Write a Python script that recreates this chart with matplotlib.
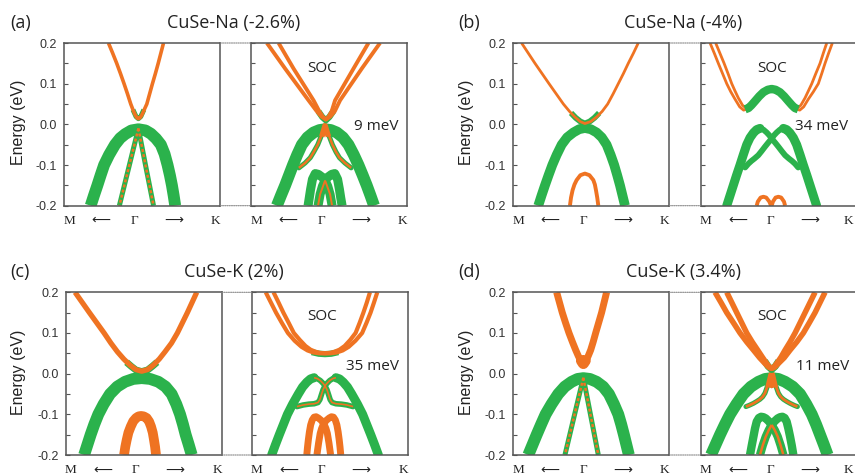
import matplotlib
matplotlib.use("Agg")
import matplotlib.pyplot as plt
from matplotlib.patches import ConnectionPatch

ORANGE = "#ef7322"
GREEN = "#2bb24c"
SPINE = "#555555"
TEXT = "#222222"

# ---------------- text / ticks ----------------
panel_labels = ["(a)", "(b)", "(c)", "(d)"]
panel_titles = ["CuSe-Na (-2.6%)", "CuSe-Na (-4%)", "CuSe-K (2%)", "CuSe-K (3.4%)"]
soc_gaps = ["9 meV", "34 meV", "35 meV", "11 meV"]
energy_ticks = [-0.2, -0.1, 0.0, 0.1, 0.2]
energy_ticklabels = ["-0.2", "-0.1", "0.0", "0.1", "0.2"]
energy_minor = [-0.15, -0.05, 0.05, 0.15]
k_labels = ["M", "\u27f5", "\u0393", "\u27f6", "K"]

# ---------------- band data: (k as fraction of M-Gamma-K window, E in eV) ----------------
# (a) no SOC
A0_CB = [(0.283, 0.2), (0.310, 0.175), (0.336, 0.15), (0.360, 0.125), (0.383, 0.10), (0.405, 0.075),
         (0.426, 0.05), (0.442, 0.034), (0.456, 0.022), (0.466, 0.016), (0.475, 0.014), (0.485, 0.016),
         (0.496, 0.022), (0.510, 0.034), (0.529, 0.05), (0.547, 0.075), (0.565, 0.10), (0.584, 0.125),
         (0.602, 0.15), (0.619, 0.175), (0.636, 0.2)]
A0_CB_GREEN = [(0.44, 0.036), (0.46, 0.019), (0.475, 0.014), (0.49, 0.019), (0.51, 0.036)]
A0_VB = [(0.169, -0.2), (0.190, -0.175), (0.212, -0.15), (0.233, -0.125), (0.255, -0.1), (0.287, -0.075),
         (0.325, -0.05), (0.358, -0.034), (0.390, -0.024), (0.430, -0.015), (0.475, -0.012), (0.520, -0.015),
         (0.555, -0.023), (0.588, -0.035), (0.619, -0.05), (0.643, -0.073), (0.662, -0.1), (0.677, -0.125),
         (0.690, -0.15), (0.701, -0.175), (0.711, -0.2)]
A0_DOT_L = [(0.475, -0.01), (0.414, -0.105), (0.353, -0.2)]
A0_DOT_R = [(0.475, -0.01), (0.523, -0.105), (0.572, -0.2)]
# (a) SOC
A1_CB1 = [(0.100, 0.2), (0.217, 0.137), (0.367, 0.059), (0.420, 0.032), (0.450, 0.019), (0.478, 0.012),
          (0.506, 0.019), (0.535, 0.032), (0.569, 0.059), (0.708, 0.137), (0.825, 0.2)]
A1_CB2 = [(0.175, 0.2), (0.271, 0.137), (0.399, 0.059), (0.436, 0.032), (0.458, 0.019), (0.478, 0.012),
          (0.496, 0.019), (0.515, 0.032), (0.537, 0.059), (0.655, 0.137), (0.751, 0.2)]
A1_CB_TIP = [(0.43, 0.032), (0.455, 0.018), (0.478, 0.010), (0.500, 0.018), (0.525, 0.032)]
A1_VB_OUT = [(0.164, -0.2), (0.190, -0.175), (0.217, -0.15), (0.242, -0.125), (0.267, -0.1), (0.294, -0.075),
             (0.324, -0.05), (0.360, -0.032), (0.399, -0.02), (0.437, -0.014), (0.473, -0.012), (0.510, -0.014),
             (0.548, -0.02), (0.587, -0.032), (0.623, -0.05), (0.657, -0.075), (0.687, -0.1), (0.714, -0.125),
             (0.740, -0.15), (0.764, -0.175), (0.787, -0.2)]
A1_VB_IN_L = [(0.473, -0.004), (0.450, -0.027), (0.426, -0.05), (0.400, -0.068), (0.378, -0.082),
              (0.345, -0.095), (0.305, -0.107)]
A1_VB_IN_R = [(0.473, -0.004), (0.497, -0.027), (0.520, -0.05), (0.543, -0.068), (0.565, -0.082),
              (0.600, -0.095), (0.640, -0.107)]
A1_VB_TOP = [(0.452, -0.03), (0.473, -0.003), (0.494, -0.03)]
A1_LOW_L = [(0.364, -0.2), (0.372, -0.18), (0.380, -0.16), (0.392, -0.135), (0.410, -0.121), (0.430, -0.123),
            (0.455, -0.13), (0.473, -0.138), (0.490, -0.152), (0.505, -0.172), (0.518, -0.2)]
A1_LOW_R = [(0.428, -0.2), (0.441, -0.172), (0.456, -0.152), (0.473, -0.138), (0.490, -0.13), (0.515, -0.123),
            (0.535, -0.121), (0.553, -0.135), (0.565, -0.16), (0.573, -0.18), (0.582, -0.2)]
A1_LOW_OR_L = [(0.473, -0.138), (0.441, -0.172), (0.428, -0.2)]
A1_LOW_OR_R = [(0.473, -0.138), (0.505, -0.172), (0.518, -0.2)]

# (b) no SOC
B0_CB = [(0.053, 0.2), (0.096, 0.175), (0.139, 0.15), (0.184, 0.125), (0.229, 0.10), (0.275, 0.075),
         (0.321, 0.05), (0.360, 0.032), (0.395, 0.018), (0.428, 0.007), (0.459, 0.002), (0.497, 0.007),
         (0.534, 0.018), (0.570, 0.032), (0.605, 0.05), (0.640, 0.075), (0.673, 0.10), (0.706, 0.125),
         (0.737, 0.15), (0.770, 0.175), (0.801, 0.2)]
B0_CB_GREEN = [(0.37, 0.028), (0.40, 0.016), (0.43, 0.007), (0.459, 0.002), (0.49, 0.007), (0.52, 0.016),
               (0.55, 0.028)]
B0_VB = [(0.160, -0.2), (0.181, -0.175), (0.203, -0.15), (0.226, -0.125), (0.250, -0.1), (0.278, -0.075),
         (0.310, -0.05), (0.345, -0.032), (0.385, -0.02), (0.422, -0.012), (0.459, -0.009), (0.497, -0.012),
         (0.534, -0.02), (0.567, -0.032), (0.598, -0.05), (0.624, -0.075), (0.647, -0.1), (0.666, -0.125),
         (0.684, -0.15), (0.700, -0.175), (0.716, -0.2)]
B0_LOW = [(0.363, -0.2), (0.370, -0.18), (0.380, -0.162), (0.392, -0.148), (0.406, -0.137), (0.430, -0.125),
          (0.459, -0.121), (0.488, -0.125), (0.513, -0.137), (0.523, -0.148), (0.530, -0.162), (0.538, -0.18),
          (0.545, -0.2)]
# (b) SOC
B1_CB1 = [(0.060, 0.2), (0.087, 0.175), (0.113, 0.15), (0.140, 0.125), (0.167, 0.1), (0.193, 0.08),
          (0.220, 0.062), (0.250, 0.043), (0.275, 0.035), (0.300, 0.038), (0.325, 0.046), (0.348, 0.056),
          (0.375, 0.068), (0.402, 0.079), (0.430, 0.086), (0.455, 0.088), (0.480, 0.086), (0.508, 0.079),
          (0.535, 0.068), (0.562, 0.056), (0.587, 0.046), (0.610, 0.038), (0.635, 0.035), (0.660, 0.043),
          (0.690, 0.062), (0.722, 0.08), (0.754, 0.10), (0.776, 0.125), (0.797, 0.15), (0.820, 0.175), (0.844, 0.2)]
B1_CB2 = [(0.096, 0.2), (0.123, 0.175), (0.150, 0.15), (0.175, 0.125), (0.199, 0.1), (0.220, 0.082),
          (0.241, 0.065), (0.268, 0.047), (0.290, 0.040), (0.310, 0.042), (0.330, 0.048), (0.348, 0.056),
          (0.402, 0.079), (0.455, 0.088), (0.508, 0.079), (0.562, 0.056), (0.580, 0.048), (0.600, 0.042),
          (0.620, 0.040), (0.642, 0.047), (0.669, 0.065), (0.690, 0.082), (0.712, 0.10), (0.738, 0.125),
          (0.765, 0.15), (0.786, 0.175), (0.808, 0.2)]
B1_HUMP = [(0.285, 0.037), (0.306, 0.040), (0.325, 0.047), (0.348, 0.057), (0.375, 0.069), (0.402, 0.079),
           (0.430, 0.085), (0.455, 0.087), (0.480, 0.085), (0.508, 0.079), (0.535, 0.069), (0.562, 0.057),
           (0.585, 0.047), (0.604, 0.040), (0.625, 0.037)]
B1_VB_L_OUT = [(0.167, -0.2), (0.188, -0.175), (0.209, -0.15), (0.230, -0.125), (0.252, -0.1), (0.273, -0.075),
               (0.295, -0.05), (0.316, -0.033), (0.338, -0.021), (0.359, -0.013), (0.380, -0.01)]
B1_VB_L_IN = [(0.380, -0.01), (0.402, -0.013), (0.423, -0.02), (0.440, -0.027), (0.455, -0.035), (0.477, -0.045),
              (0.498, -0.055), (0.520, -0.066), (0.541, -0.076), (0.565, -0.084), (0.585, -0.09), (0.605, -0.097),
              (0.625, -0.106)]
B1_VB_R_OUT = [(0.743, -0.2), (0.722, -0.175), (0.701, -0.15), (0.680, -0.125), (0.658, -0.1), (0.637, -0.075),
               (0.615, -0.05), (0.594, -0.033), (0.572, -0.021), (0.551, -0.013), (0.530, -0.01)]
B1_VB_R_IN = [(0.530, -0.01), (0.508, -0.013), (0.487, -0.02), (0.470, -0.027), (0.455, -0.035), (0.433, -0.045),
              (0.412, -0.055), (0.390, -0.066), (0.369, -0.076), (0.345, -0.084), (0.325, -0.09), (0.305, -0.097),
              (0.285, -0.106)]
B1_LOW_L = [(0.359, -0.2), (0.366, -0.19), (0.384, -0.18), (0.402, -0.178), (0.420, -0.18), (0.440, -0.19),
            (0.451, -0.2)]
B1_LOW_R = [(0.455, -0.2), (0.463, -0.19), (0.480, -0.18), (0.498, -0.178), (0.516, -0.18), (0.534, -0.19),
            (0.541, -0.2)]

# (c) no SOC
C0_CB = [(0.060, 0.2), (0.106, 0.175), (0.152, 0.15), (0.199, 0.125), (0.246, 0.10), (0.290, 0.075),
         (0.331, 0.054), (0.372, 0.036), (0.412, 0.021), (0.450, 0.010), (0.487, 0.006), (0.525, 0.010),
         (0.562, 0.021), (0.600, 0.036), (0.637, 0.054), (0.678, 0.075), (0.716, 0.10), (0.748, 0.125),
         (0.780, 0.15), (0.810, 0.175), (0.840, 0.2)]
C0_CB_GREEN = [(0.39, 0.028), (0.42, 0.018), (0.45, 0.009), (0.487, 0.005), (0.525, 0.009), (0.555, 0.018),
               (0.585, 0.028)]
C0_VB = [(0.118, -0.2), (0.139, -0.175), (0.160, -0.15), (0.183, -0.125), (0.209, -0.1), (0.243, -0.075),
         (0.284, -0.05), (0.330, -0.032), (0.380, -0.02), (0.433, -0.013), (0.487, -0.011), (0.541, -0.013),
         (0.594, -0.02), (0.640, -0.032), (0.679, -0.05), (0.709, -0.075), (0.733, -0.1), (0.752, -0.125),
         (0.769, -0.15), (0.789, -0.175), (0.808, -0.2)]
C0_LOW = [(0.374, -0.2), (0.382, -0.18), (0.391, -0.163), (0.402, -0.145), (0.417, -0.13), (0.433, -0.117),
          (0.451, -0.109), (0.467, -0.105), (0.483, -0.104), (0.500, -0.105), (0.519, -0.109), (0.535, -0.118),
          (0.547, -0.13), (0.558, -0.145), (0.566, -0.163), (0.573, -0.18), (0.579, -0.2)]
# (c) SOC
C1_CB1 = [(0.090, 0.2), (0.123, 0.175), (0.156, 0.15), (0.193, 0.125), (0.232, 0.10), (0.275, 0.081),
          (0.319, 0.066), (0.358, 0.057), (0.395, 0.052), (0.433, 0.050), (0.470, 0.05), (0.507, 0.050),
          (0.545, 0.052), (0.583, 0.057), (0.622, 0.066), (0.665, 0.081), (0.708, 0.10), (0.736, 0.125),
          (0.762, 0.15), (0.784, 0.175), (0.805, 0.2)]
C1_CB2 = [(0.140, 0.2), (0.172, 0.175), (0.203, 0.15), (0.237, 0.125), (0.270, 0.10), (0.308, 0.083),
          (0.345, 0.068), (0.377, 0.059), (0.408, 0.054), (0.440, 0.051), (0.470, 0.05), (0.500, 0.051),
          (0.532, 0.054), (0.563, 0.059), (0.596, 0.068), (0.632, 0.083), (0.666, 0.10), (0.692, 0.125),
          (0.716, 0.15), (0.738, 0.175), (0.758, 0.2)]
C1_CB_GREEN = [(0.385, 0.053), (0.430, 0.049), (0.470, 0.048), (0.510, 0.049), (0.555, 0.053)]
C1_VB_L_OUT = [(0.128, -0.2), (0.152, -0.175), (0.177, -0.15), (0.203, -0.125), (0.229, -0.1), (0.262, -0.075),
               (0.299, -0.05), (0.326, -0.033), (0.353, -0.021), (0.377, -0.013), (0.400, -0.01)]
C1_VB_L_IN = [(0.400, -0.01), (0.420, -0.012), (0.440, -0.017), (0.458, -0.024), (0.470, -0.03), (0.483, -0.040),
              (0.494, -0.053), (0.503, -0.064), (0.515, -0.071), (0.540, -0.074), (0.575, -0.075), (0.610, -0.077),
              (0.650, -0.081)]
C1_VB_R_OUT = [(0.812, -0.2), (0.788, -0.175), (0.763, -0.15), (0.737, -0.125), (0.711, -0.1), (0.678, -0.075),
               (0.641, -0.05), (0.614, -0.033), (0.587, -0.021), (0.563, -0.013), (0.540, -0.01)]
C1_VB_R_IN = [(0.540, -0.01), (0.520, -0.012), (0.500, -0.017), (0.482, -0.024), (0.470, -0.03), (0.457, -0.040),
              (0.446, -0.053), (0.437, -0.064), (0.425, -0.071), (0.400, -0.074), (0.365, -0.075), (0.330, -0.077),
              (0.290, -0.081)]
C1_LOW_L = [(0.353, -0.2), (0.358, -0.18), (0.363, -0.163), (0.370, -0.143), (0.378, -0.126), (0.388, -0.114),
            (0.400, -0.107), (0.413, -0.106), (0.427, -0.109), (0.446, -0.115), (0.464, -0.124), (0.476, -0.135),
            (0.485, -0.147), (0.495, -0.17), (0.506, -0.2)]
C1_LOW_R = [(0.571, -0.2), (0.566, -0.18), (0.561, -0.163), (0.554, -0.143), (0.546, -0.126), (0.536, -0.114),
            (0.524, -0.107), (0.511, -0.106), (0.497, -0.109), (0.478, -0.115), (0.460, -0.124), (0.448, -0.135),
            (0.439, -0.147), (0.429, -0.17), (0.418, -0.2)]

# (d) no SOC
D0_CB = [(0.278, 0.2), (0.296, 0.175), (0.314, 0.15), (0.335, 0.125), (0.357, 0.10), (0.379, 0.078),
         (0.400, 0.058), (0.416, 0.044), (0.430, 0.033), (0.441, 0.027), (0.449, 0.025), (0.458, 0.027),
         (0.468, 0.033), (0.481, 0.044), (0.496, 0.058), (0.512, 0.078), (0.528, 0.10), (0.547, 0.125),
         (0.566, 0.15), (0.582, 0.175), (0.598, 0.2)]
D0_CB_TIP = [(0.437, 0.032), (0.449, 0.025), (0.461, 0.032)]
D0_VB = [(0.096, -0.2), (0.123, -0.175), (0.150, -0.15), (0.178, -0.125), (0.207, -0.1), (0.245, -0.075),
         (0.288, -0.05), (0.330, -0.032), (0.374, -0.02), (0.412, -0.013), (0.449, -0.011), (0.491, -0.013),
         (0.534, -0.02), (0.576, -0.032), (0.613, -0.05), (0.645, -0.075), (0.673, -0.1), (0.692, -0.125),
         (0.709, -0.15), (0.725, -0.175), (0.741, -0.2)]
D0_DOT_L = [(0.449, -0.01), (0.390, -0.105), (0.331, -0.2)]
D0_DOT_R = [(0.449, -0.01), (0.497, -0.105), (0.545, -0.2)]
# (d) SOC
D1_CB1 = [(0.092, 0.2), (0.130, 0.175), (0.167, 0.15), (0.210, 0.125), (0.252, 0.10), (0.295, 0.078),
          (0.338, 0.058), (0.378, 0.039), (0.412, 0.025), (0.436, 0.016), (0.455, 0.013), (0.474, 0.016),
          (0.498, 0.025), (0.535, 0.039), (0.573, 0.058), (0.616, 0.078), (0.658, 0.10), (0.696, 0.125),
          (0.733, 0.15), (0.765, 0.175), (0.797, 0.2)]
D1_CB2 = [(0.167, 0.2), (0.199, 0.175), (0.231, 0.15), (0.263, 0.125), (0.295, 0.10), (0.330, 0.078),
          (0.365, 0.058), (0.396, 0.040), (0.423, 0.025), (0.441, 0.016), (0.455, 0.013), (0.469, 0.016),
          (0.487, 0.025), (0.514, 0.040), (0.541, 0.058), (0.573, 0.078), (0.605, 0.10), (0.637, 0.125),
          (0.669, 0.15), (0.701, 0.175), (0.733, 0.2)]
D1_CB_GREEN = [(0.410, 0.031), (0.432, 0.018), (0.455, 0.010), (0.478, 0.018), (0.500, 0.031)]
D1_VB_OUT = [(0.066, -0.2), (0.095, -0.175), (0.124, -0.15), (0.155, -0.125), (0.188, -0.1), (0.229, -0.075),
             (0.274, -0.05), (0.322, -0.032), (0.370, -0.02), (0.413, -0.013), (0.455, -0.011), (0.498, -0.013),
             (0.541, -0.02), (0.590, -0.032), (0.637, -0.05), (0.677, -0.075), (0.712, -0.1), (0.740, -0.125),
             (0.765, -0.15), (0.790, -0.175), (0.814, -0.2)]
D1_VB_IN_L = [(0.455, -0.002), (0.444, -0.013), (0.434, -0.024), (0.423, -0.036), (0.412, -0.048), (0.397, -0.057),
              (0.380, -0.063), (0.360, -0.068), (0.338, -0.073), (0.310, -0.078), (0.290, -0.081)]
D1_VB_IN_R = [(0.455, -0.002), (0.466, -0.013), (0.476, -0.024), (0.487, -0.036), (0.498, -0.048), (0.513, -0.057),
              (0.530, -0.063), (0.550, -0.068), (0.573, -0.073), (0.600, -0.078), (0.620, -0.081)]
D1_VB_TOP = [(0.436, -0.034), (0.446, -0.018), (0.455, -0.003), (0.464, -0.018), (0.474, -0.034)]
D1_LOW_L = [(0.316, -0.2), (0.327, -0.177), (0.338, -0.155), (0.348, -0.135), (0.359, -0.118), (0.373, -0.109),
            (0.387, -0.106), (0.402, -0.107), (0.417, -0.11), (0.436, -0.117), (0.455, -0.126), (0.475, -0.139),
            (0.494, -0.155), (0.512, -0.176), (0.530, -0.2)]
D1_LOW_R = [(0.380, -0.2), (0.398, -0.176), (0.417, -0.155), (0.436, -0.139), (0.455, -0.126), (0.474, -0.117),
            (0.494, -0.11), (0.509, -0.107), (0.524, -0.106), (0.538, -0.109), (0.551, -0.118), (0.562, -0.135),
            (0.573, -0.155), (0.584, -0.177), (0.594, -0.2)]
D1_LOW_OR_L = [(0.455, -0.126), (0.436, -0.139), (0.417, -0.155), (0.398, -0.176), (0.380, -0.2)]
D1_LOW_OR_R = [(0.455, -0.126), (0.475, -0.139), (0.494, -0.155), (0.512, -0.176), (0.530, -0.2)]

# ---------------- drawing recipes (data, colour, linewidth in pt, style) ----------------
G, O = GREEN, ORANGE
recipes = [
    # (a)
    ([(A0_VB, G, 8.5, "-"), (A0_DOT_L, G, 3.6, "-"), (A0_DOT_R, G, 3.6, "-"),
      (A0_DOT_L, O, 1.8, "d"), (A0_DOT_R, O, 1.8, "d"), (A0_CB_GREEN, G, 3.6, "-"), (A0_CB, O, 2.6, "-")],
     [(A1_VB_OUT, G, 8.5, "-"), (A1_VB_IN_L, G, 3.6, "r"), (A1_VB_IN_R, G, 3.6, "r"),
      (A1_LOW_L, G, 6.5, "-"), (A1_LOW_R, G, 6.5, "-"), (A1_LOW_OR_L, O, 1.4, "-"), (A1_LOW_OR_R, O, 1.4, "-"),
      (A1_VB_IN_L, O, 1.8, "-"), (A1_VB_IN_R, O, 1.8, "-"), (A1_VB_TOP, O, 4.0, "-"),
      (A1_CB_TIP, G, 4.5, "-"), (A1_CB1, O, 2.8, "-"), (A1_CB2, O, 2.8, "-")]),
    # (b)
    ([(B0_VB, G, 7.0, "-"), (B0_CB_GREEN, G, 4.2, "-"), (B0_CB, O, 2.0, "-"), (B0_LOW, O, 2.8, "-")],
     [(B1_CB1, O, 2.0, "-"), (B1_CB2, O, 2.0, "-"), (B1_HUMP, G, 6.0, "-"),
      (B1_VB_L_IN, G, 4.2, "r"), (B1_VB_R_IN, G, 4.2, "r"), (B1_VB_L_OUT, G, 6.5, "r"), (B1_VB_R_OUT, G, 6.5, "r"),
      (B1_LOW_L, O, 2.8, "-"), (B1_LOW_R, O, 2.8, "-")]),
    # (c)
    ([(C0_VB, G, 8.5, "-"), (C0_CB_GREEN, G, 5.0, "-"), (C0_CB, O, 3.8, "-"), (C0_LOW, O, 7.0, "-")],
     [(C1_CB_GREEN, G, 4.5, "-"), (C1_CB1, O, 3.0, "-"), (C1_CB2, O, 3.0, "-"),
      (C1_VB_L_IN, G, 4.0, "r"), (C1_VB_R_IN, G, 4.0, "r"), (C1_VB_L_OUT, G, 6.5, "r"), (C1_VB_R_OUT, G, 6.5, "r"),
      (C1_VB_L_IN, O, 1.2, "-"), (C1_VB_R_IN, O, 1.2, "-"), (C1_LOW_L, O, 5.0, "-"), (C1_LOW_R, O, 5.0, "-")]),
    # (d)
    ([(D0_VB, G, 8.5, "-"), (D0_DOT_L, G, 3.6, "-"), (D0_DOT_R, G, 3.6, "-"),
      (D0_DOT_L, O, 1.8, "d"), (D0_DOT_R, O, 1.8, "d"), (D0_CB, O, 5.0, "-"), (D0_CB_TIP, O, 8.0, "r")],
     [(D1_VB_OUT, G, 8.5, "-"), (D1_VB_IN_L, G, 3.6, "r"), (D1_VB_IN_R, G, 3.6, "r"),
      (D1_LOW_L, G, 6.0, "-"), (D1_LOW_R, G, 6.0, "-"), (D1_LOW_OR_L, O, 1.8, "-"), (D1_LOW_OR_R, O, 1.8, "-"),
      (D1_VB_IN_L, O, 2.0, "-"), (D1_VB_IN_R, O, 2.0, "-"), (D1_VB_TOP, O, 5.0, "-"),
      (D1_CB_GREEN, G, 5.0, "-"), (D1_CB1, O, 4.0, "-"), (D1_CB2, O, 4.0, "-")]),
]

# ---------------- layout (pixels of the 855x475 canvas) ----------------
W, H = 855.0, 475.0
AX_W, AX_H = 156.0, 162.7
panel_left = [(64.3, 251.3), (513.3, 700.7), (65.7, 251.7), (513.3, 700.7)]
panel_top = [43.0, 43.0, 292.3, 292.3]
label_xy = [(10, 23), (458, 23), (10, 272), (458, 272)]
title_xy = [(234, 23), (683, 23), (234, 272), (683, 272)]
ylabel_xy = [(18, 122), (466, 122), (19, 372), (466, 372)]
soc_xy = [(322, 68), (772, 68), (322, 317), (772, 317)]
gap_xy = [(376, 127), (822, 127), (372, 367), (823, 367)]
k_label_pos = [0.033, 0.235, 0.447, 0.70, 0.97]
k_label_pos_cut = [0.033, 0.235, 0.447, 0.70, 0.945]   # right-hand panels cut by the canvas edge

fig = plt.figure(figsize=(W / 100, H / 100), dpi=100)
fig.patch.set_facecolor("white")


def fx(px):
    return px / W


def fy(py):
    return 1 - py / H


def draw_band(ax, pts, color, lw, style):
    k = [p[0] for p in pts]
    e = [p[1] for p in pts]
    if style == "d":
        ax.plot(k, e, color=color, lw=lw, dashes=(1.2, 0.9), dash_capstyle="butt")
    else:
        cap = "round" if style == "r" else "butt"
        ax.plot(k, e, color=color, lw=lw, solid_capstyle=cap, solid_joinstyle="round")


def style_axes(ax, with_labels, kpos):
    ax.set_xlim(0, 1)
    ax.set_ylim(-0.2, 0.2)
    ax.set_xticks([])
    ax.set_yticks(energy_ticks)
    ax.set_yticks(energy_minor, minor=True)
    if with_labels:
        ax.set_yticklabels(energy_ticklabels, fontsize=9, family="Liberation Sans", color="#333333")
    else:
        ax.set_yticklabels([])
    ax.tick_params(axis="y", which="both", direction="in", length=3, width=0.8, colors=SPINE,
                   pad=5, labelcolor="#333333")
    for s in ax.spines.values():
        s.set_color(SPINE)
        s.set_linewidth(1.1)
    for x, lab in zip(kpos, k_labels):
        ax.text(x, -0.094, lab, transform=ax.transAxes, ha="center", va="center",
                fontsize=9.5, family=["Liberation Serif", "DejaVu Sans"], color=TEXT)


for i in range(4):
    top = panel_top[i]
    axes = []
    for j, left in enumerate(panel_left[i]):
        ax = fig.add_axes([fx(left), fy(top + AX_H), AX_W / W, AX_H / H])
        kpos = k_label_pos_cut if (left + AX_W > W - 5) else k_label_pos
        style_axes(ax, j == 0, kpos)
        for pts, col, lw, st in recipes[i][j]:
            draw_band(ax, pts, col, lw, st)
        axes.append(ax)
    for ya in (0, 1):
        con = ConnectionPatch(xyA=(1, ya), coordsA=axes[0].transAxes, xyB=(0, ya), coordsB=axes[1].transAxes,
                              linestyle=(0, (1, 1)), color="#888888", lw=0.8)
        fig.add_artist(con)
    fig.text(fx(label_xy[i][0]), fy(label_xy[i][1]), panel_labels[i], ha="left", va="center",
             fontsize=13, family="Open Sans", color=TEXT)
    fig.text(fx(title_xy[i][0]), fy(title_xy[i][1]), panel_titles[i], ha="center", va="center",
             fontsize=13, family="Open Sans", color=TEXT)
    fig.text(fx(ylabel_xy[i][0]), fy(ylabel_xy[i][1]), "Energy (eV)", rotation=90, ha="center", va="center",
             fontsize=11.5, family="Liberation Sans", color=TEXT)
    fig.text(fx(soc_xy[i][0]), fy(soc_xy[i][1]), "SOC", ha="center", va="center",
             fontsize=11, family="Open Sans", color=TEXT)
    fig.text(fx(gap_xy[i][0]), fy(gap_xy[i][1]), soc_gaps[i], ha="center", va="center",
             fontsize=11, family="Open Sans", color=TEXT)

fig.savefig("out.png", dpi=100, facecolor="white")
